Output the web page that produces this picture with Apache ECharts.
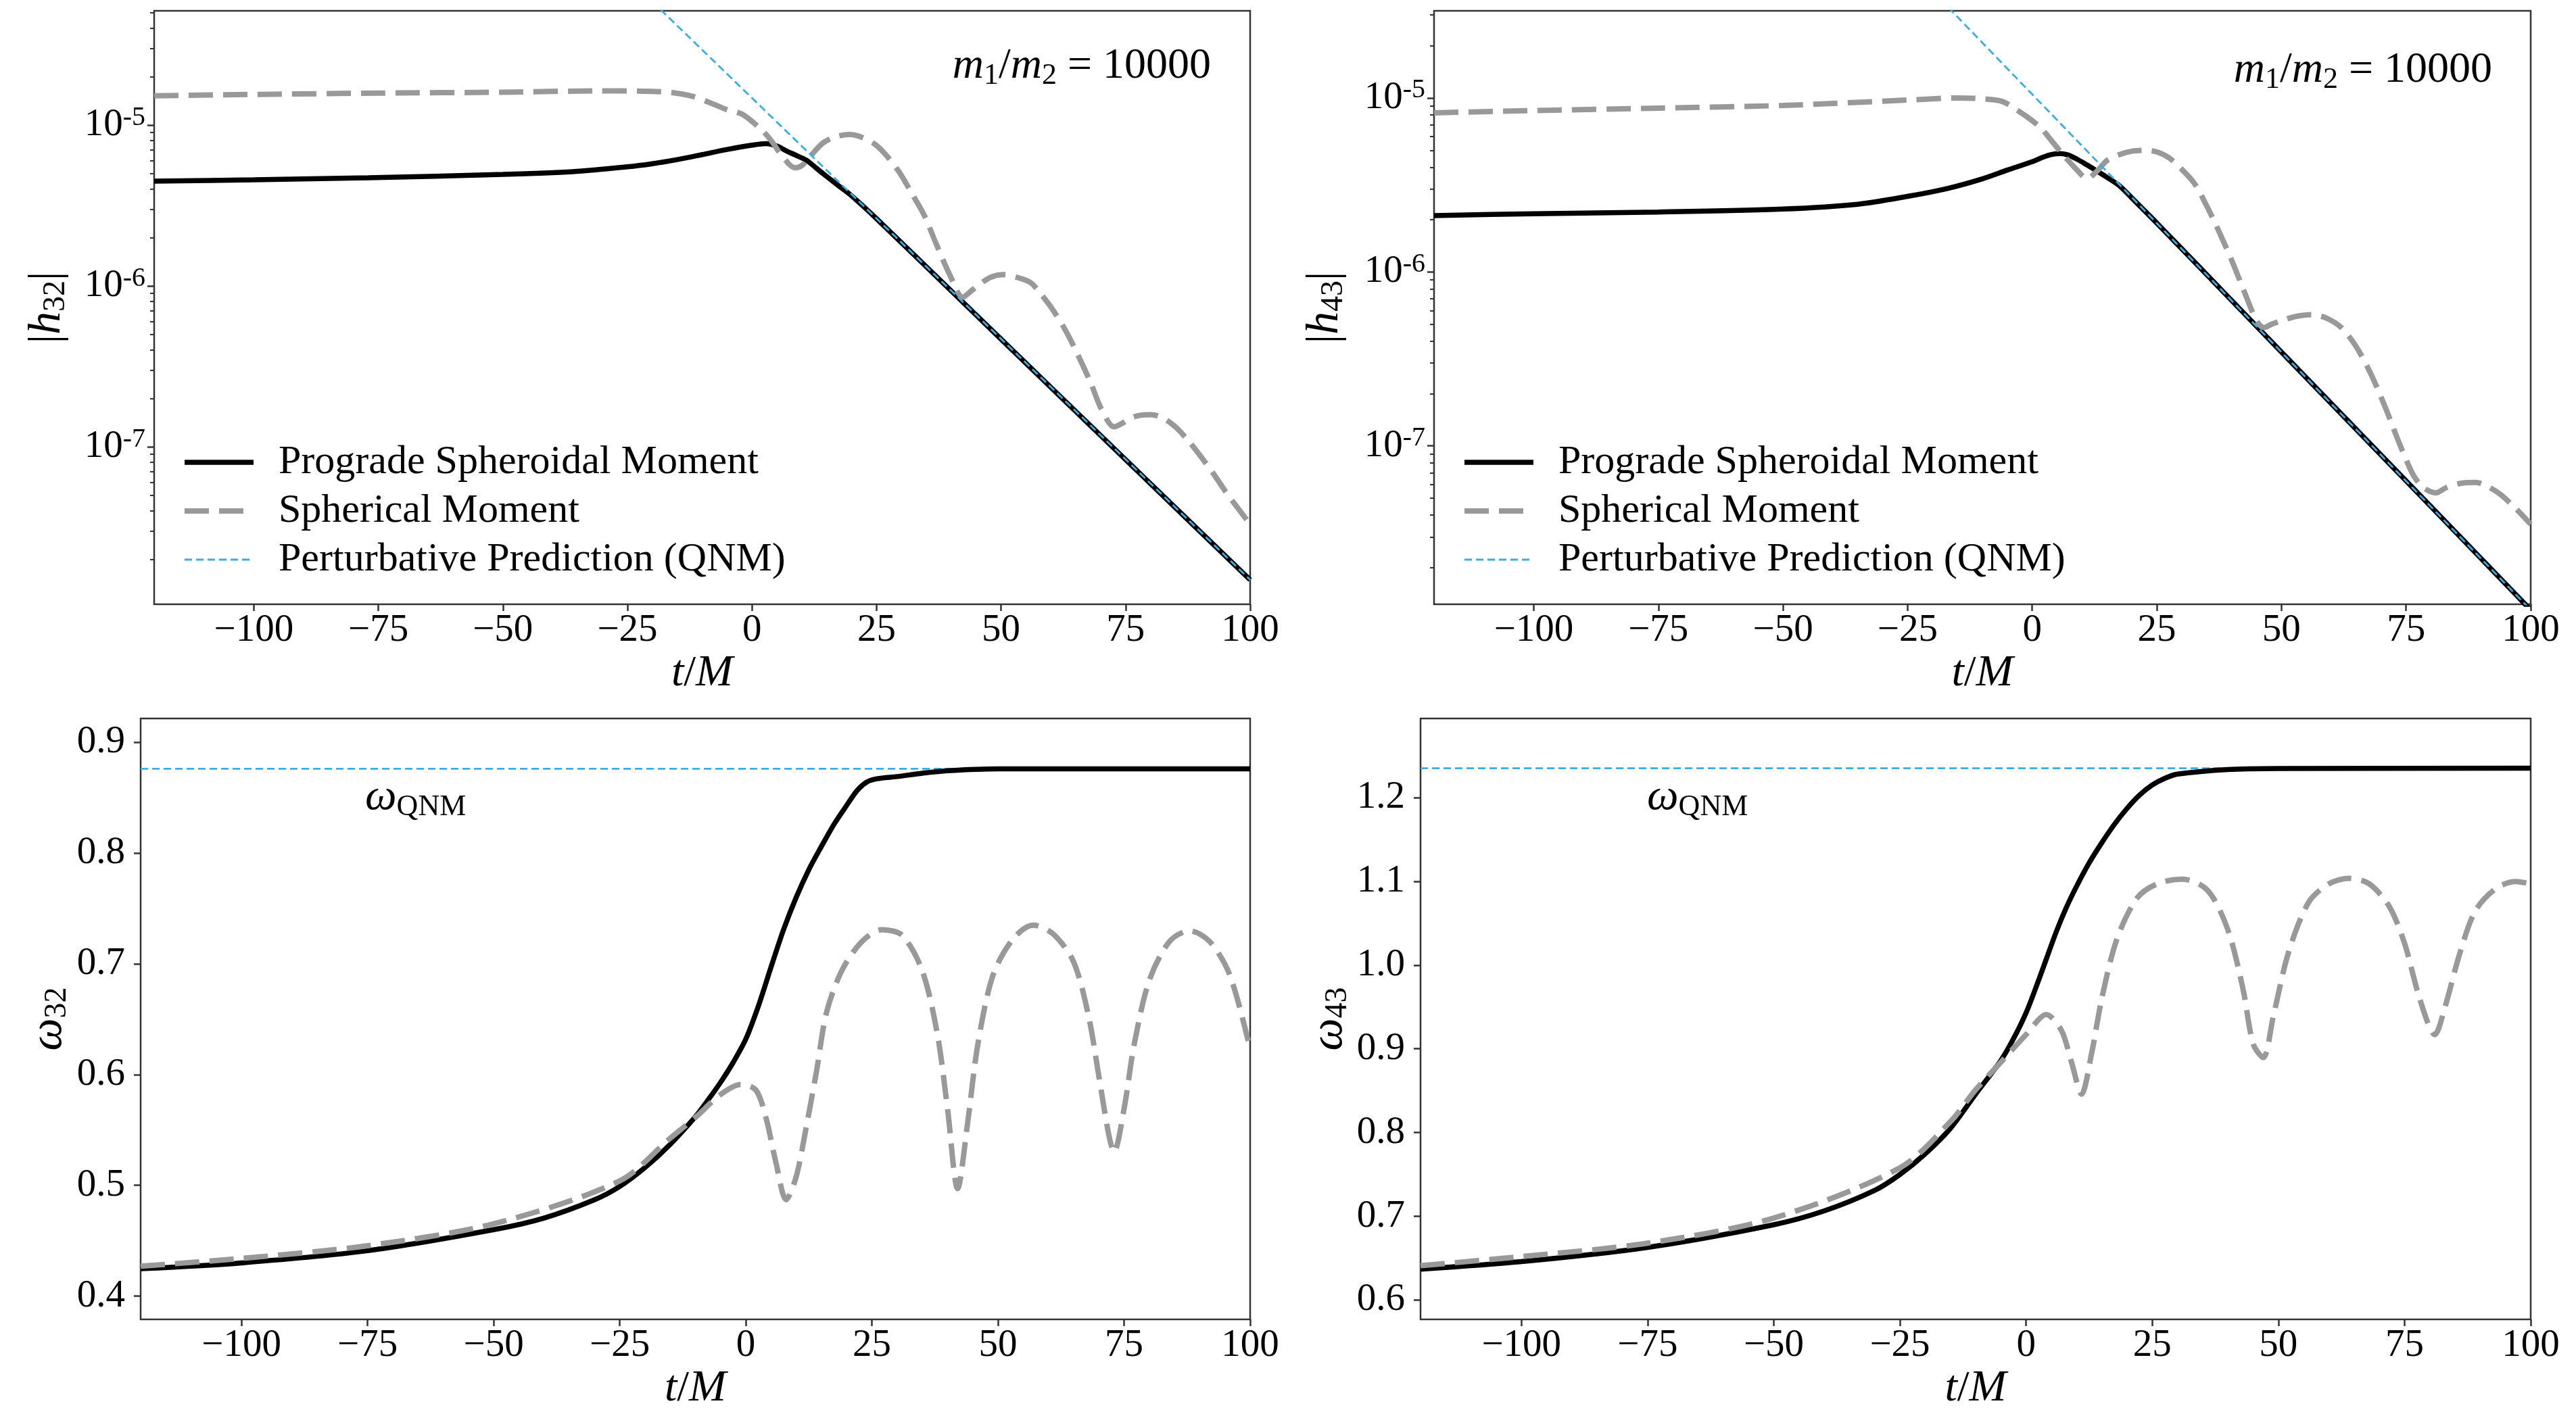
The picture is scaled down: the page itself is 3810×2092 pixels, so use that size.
<!DOCTYPE html>
<html><head><meta charset="utf-8">
<script src="https://cdn.jsdelivr.net/npm/echarts@6/dist/echarts.min.js"></script>
<style>html,body{margin:0;padding:0;background:#fff}#c{width:3810px;height:2092px}</style>
</head><body><div id="c"></div><script>
const FONT = 'Liberation Serif';

// ---- tick labels ----
const xTickValues = [-100, -75, -50, -25, 0, 25, 50, 75, 100];
const logTickValues = [1e-7, 1e-6, 1e-5];
const omega32TickValues = [0.4, 0.5, 0.6, 0.7, 0.8, 0.9];
const omega43TickValues = [0.6, 0.7, 0.8, 0.9, 1.0, 1.1, 1.2];

// ---- |h32| ----
const h32SpheroidalT = [-120,-100,-77,-50,-36,-25,-20,-15,-10,-5,0,2.8,5,7,9,11,13,15,17.5,20,25,40,60,80,100];
const h32Spheroidal  = [4.48e-6,4.57e-6,4.70e-6,4.93e-6,5.13e-6,5.50e-6,5.75e-6,6.10e-6,6.55e-6,7.05e-6,7.50e-6,7.67e-6,7.41e-6,6.89e-6,6.45e-6,6.03e-6,5.37e-6,4.79e-6,4.17e-6,3.63e-6,2.62e-6,9.31e-7,2.34e-7,5.90e-8,1.49e-8];
const h32SphericalT = [-120,-100,-75,-50,-31,-20,-16,-12,-8,-5,-2,2,4,6,8.6,10,11.5,14.3,17,19.6,22,24.7,27,29.6,32,34.6,37,39.8,42.3,44,45.6,48,50.5,53,55.9,58,60.4,63,65.3,68,70.2,72.7,74.5,76,78,80.1,82.5,85,87.5,90.1,92.5,95.1,97.5,100];
const h32Spherical  = [1.52e-5,1.55e-5,1.58e-5,1.60e-5,1.63e-5,1.62e-5,1.59e-5,1.51e-5,1.36e-5,1.245e-5,1.17e-5,9.3e-6,7.9e-6,6.45e-6,5.43e-6,5.6e-6,6.3e-6,7.76e-6,8.5e-6,8.73e-6,8.41e-6,7.59e-6,6.46e-6,5.08e-6,3.8e-6,2.74e-6,1.82e-6,1.156e-6,8.5e-7,9.3e-7,1.02e-6,1.135e-6,1.175e-6,1.135e-6,1.05e-6,8.9e-7,7.1e-7,5.25e-7,3.8e-7,2.5e-7,1.7e-7,1.33e-7,1.41e-7,1.51e-7,1.57e-7,1.585e-7,1.51e-7,1.33e-7,1.1e-7,8.7e-8,6.9e-8,5.25e-8,4.17e-8,3.3e-8];
const h32QnmT = [-20, 100];
const h32Qnm  = [5.85e-5, 1.49e-8];

// ---- |h43| ----
const h43SpheroidalT = [-120,-100,-75,-50,-35,-25,-17,-10,-5,0,2,4,5.5,7,9,11,13,15,17.5,20,25,40,60,80,100];
const h43Spheroidal  = [2.11e-6,2.16e-6,2.21e-6,2.30e-6,2.45e-6,2.72e-6,3.02e-6,3.43e-6,3.85e-6,4.30e-6,4.55e-6,4.74e-6,4.79e-6,4.72e-6,4.45e-6,4.12e-6,3.80e-6,3.50e-6,3.13e-6,2.66e-6,1.91e-6,6.86e-7,1.75e-7,4.48e-8,1.14e-8];
const h43SphericalT = [-120,-100,-75,-50,-25,-15,-10,-6,-3,0,2,4,6,9,11,13,15,17.5,20,22.5,25,27.5,30,32.5,35,37.5,40,42.5,45,46.5,48,50,53,56,59,62,65,68,71,74,76.5,78.5,81,83,86,89,91.5,94,97,100];
const h43Spherical  = [8.22e-6,8.47e-6,8.75e-6,9.06e-6,9.73e-6,1.0e-5,9.89e-6,9.55e-6,8.51e-6,7.41e-6,6.6e-6,5.62e-6,4.79e-6,3.85e-6,3.43e-6,3.8e-6,4.37e-6,4.73e-6,4.95e-6,5.0e-6,4.9e-6,4.52e-6,3.89e-6,3.24e-6,2.4e-6,1.7e-6,1.17e-6,7.76e-7,5.25e-7,4.79e-7,5.0e-7,5.25e-7,5.56e-7,5.69e-7,5.43e-7,4.79e-7,3.72e-7,2.57e-7,1.62e-7,9.77e-8,6.76e-8,5.75e-8,5.37e-8,5.75e-8,6.1e-8,6.17e-8,5.82e-8,5.25e-8,4.37e-8,3.55e-8];
const h43QnmT = [-20, 100];
const h43Qnm  = [4.11e-5, 1.14e-8];

// ---- omega32 ----
const w32SpheroidalT = [-120,-100,-75,-50,-40,-30,-25,-20,-15,-10,-7.5,-5,-2.5,0,2.5,5,7.5,10,12.5,15,17.5,20,22,24,26,30,35,40,50,75,100];
const w32Spheroidal  = [0.4247,0.430,0.441,0.460,0.4705,0.487,0.499,0.516,0.537,0.562,0.577,0.593,0.611,0.632,0.662,0.697,0.731,0.760,0.785,0.806,0.826,0.843,0.856,0.864,0.867,0.869,0.872,0.8743,0.876,0.876,0.876];
const w32SphericalT = [-120,-100,-75,-50,-25,-15,-10,-5,-1,2,4,6,8,10,12,14,16,19,23,27,31,35,38,40,42,44,46,49,53,57,61,65,68,70,72,73,75,77,80,84,88,92,96,100];
const w32Spherical  = [0.427,0.434,0.4455,0.4653,0.504,0.5425,0.5613,0.582,0.591,0.586,0.561,0.520,0.487,0.508,0.553,0.6025,0.656,0.6935,0.720,0.7307,0.7257,0.6935,0.636,0.569,0.497,0.557,0.627,0.6895,0.7225,0.7348,0.7267,0.7017,0.652,0.5985,0.545,0.530,0.569,0.627,0.685,0.720,0.7298,0.720,0.6895,0.623];
const w32QnmT = [-120, 100];
const w32Qnm  = [0.876, 0.876];

// ---- omega43 ----
const w43SpheroidalT = [-120,-100,-75,-50,-40,-30,-25,-20,-15,-10,-5,-2.5,0,2,4,6,8,10,12.5,15,17.5,20,22.5,25,27.5,30,40,50,100];
const w43Spheroidal  = [0.637,0.646,0.663,0.690,0.7065,0.731,0.750,0.7746,0.805,0.846,0.886,0.912,0.943,0.974,1.007,1.040,1.069,1.094,1.122,1.146,1.168,1.187,1.203,1.215,1.223,1.228,1.2335,1.2347,1.235];
const w43SphericalT = [-120,-100,-75,-50,-25,-15,-10,-5,0,4,7,9,11,13,15,18,22,26,31,36,40,43,45,47,49,52,56,60,64,68,72,75,78,81,83,86,89,93,97,100];
const w43Spherical  = [0.6411,0.652,0.668,0.698,0.758,0.813,0.851,0.884,0.917,0.941,0.922,0.884,0.846,0.895,0.960,1.031,1.080,1.097,1.1025,1.089,1.042,0.971,0.906,0.8895,0.939,1.015,1.075,1.097,1.1035,1.097,1.0697,1.026,0.960,0.917,0.9495,1.015,1.0645,1.091,1.0997,1.097];
const w43QnmT = [-120, 100];
const w43Qnm  = [1.235, 1.235];

// ---- names ----
const NAME_SPH = 'Prograde Spheroidal Moment';
const NAME_SPHR = 'Spherical Moment';
const NAME_QNM = 'Perturbative Prediction (QNM)';

function zip(t, v) { return t.map((x, i) => [x, v[i]]); }
function minorLogTicks(lo, hi) {
  const out = [];
  for (let e = -9; e <= -3; e++) for (let m = 2; m <= 9; m++) {
    const v = m * Math.pow(10, e);
    if (v > lo && v < hi) out.push(v);
  }
  return out;
}

const blackStyle = { color: '#000', width: 7.5 };
const grayStyle = { color: '#999999', width: 8, type: [36, 15] };
const blueStyle = { color: '#3aace6', width: 2.8, type: [11, 6] };

function line(name, t, v, xi, yi, style, smooth) {
  return { type: 'line', name, data: zip(t, v), xAxisIndex: xi, yAxisIndex: yi,
    symbol: 'none', showSymbol: false, smooth: smooth ? 0.3 : false, lineStyle: style,
    itemStyle: { color: style.color, opacity: 0 }, silent: true, clip: true };
}

const tickStyle = { show: true, length: 10, inside: false, lineStyle: { color: '#333', width: 2.5 } };
const labelBase = { color: '#000', fontFamily: FONT, fontSize: 57 };
const fmtX = v => v < 0 ? '\u2212' + Math.abs(v) : String(v);
const noLine = { show: false, onZero: false };

function xAxis(gi) {
  return { type: 'value', gridIndex: gi, min: -120, max: 100, position: 'bottom',
    axisLine: noLine, splitLine: { show: false },
    axisTick: Object.assign({ customValues: xTickValues }, tickStyle),
    axisLabel: Object.assign({ customValues: xTickValues, formatter: fmtX, margin: 11 }, labelBase),
    name: '{i|t}{n|/}{i|M}', nameLocation: 'middle', nameGap: 68,
    nameTextStyle: { color: '#000', fontFamily: FONT, fontSize: 64,
      rich: { i: { fontFamily: FONT, fontSize: 66, fontStyle: 'italic', color: '#000', lineHeight: 70 },
              n: { fontFamily: FONT, fontSize: 64, color: '#000', lineHeight: 70 } } }
  };
}

const nameRich = {
  h: { fontFamily: FONT, fontSize: 68, fontStyle: 'italic', color: '#000', lineHeight: 72 },
  w: { fontFamily: FONT, fontSize: 68, fontStyle: 'italic', color: '#000', lineHeight: 72 },
  s: { fontFamily: FONT, fontSize: 46, color: '#000', lineHeight: 52, verticalAlign: 'bottom' },
  n: { fontFamily: FONT, fontSize: 66, color: '#000', lineHeight: 72 }
};

function logAxis(gi, min, max, name, gap) {
  return { type: 'log', logBase: 10, gridIndex: gi, min, max, position: 'left',
    axisLine: noLine, splitLine: { show: false },
    axisTick: Object.assign({ customValues: logTickValues }, tickStyle),
    axisLabel: { customValues: logTickValues, margin: 13, color: '#000', fontFamily: FONT, fontSize: 57,
      formatter: v => '{b|10}{p|' + Math.round(Math.log10(v)) + '}',
      rich: { b: { fontFamily: FONT, fontSize: 57, lineHeight: 62, color: '#000' },
              p: { fontFamily: FONT, fontSize: 40, lineHeight: 40, color: '#000', verticalAlign: 'top' } } },
    name, nameLocation: 'middle', nameGap: gap,
    nameTextStyle: { color: '#000', fontFamily: FONT, fontSize: 66, rich: nameRich }
  };
}
function minorAxis(gi, min, max) {
  return { type: 'log', logBase: 10, gridIndex: gi, min, max, position: 'left', offset: 0,
    axisLine: noLine, splitLine: { show: false }, axisLabel: { show: false },
    axisTick: { show: true, length: 6, customValues: minorLogTicks(min, max), lineStyle: { color: '#333', width: 2 } } };
}
function linAxis(gi, min, max, ticks, name, gap) {
  return { type: 'value', gridIndex: gi, min, max, position: 'left',
    axisLine: noLine, splitLine: { show: false },
    axisTick: Object.assign({ customValues: ticks }, tickStyle),
    axisLabel: Object.assign({ customValues: ticks, formatter: v => v.toFixed(1), margin: 23 }, labelBase),
    name, nameLocation: 'middle', nameGap: gap,
    nameTextStyle: { color: '#000', fontFamily: FONT, fontSize: 66, rich: nameRich }
  };
}

const gridBase = { show: true, borderColor: '#333', borderWidth: 2.5, backgroundColor: 'transparent', containLabel: false };

const legendText = { color: '#000', fontFamily: FONT, fontSize: 60, padding: [0, 0, 0, 32] };
const hiddenSymbol = { opacity: 0, borderWidth: 0 };
function legend(left, top) {
  return { left, top, orient: 'vertical', itemWidth: 102, itemHeight: 56, itemGap: 12, padding: 0,
    selectedMode: false, textStyle: legendText,
    data: [ { name: NAME_SPH, lineStyle: blackStyle, itemStyle: hiddenSymbol },
            { name: NAME_SPHR, lineStyle: grayStyle, itemStyle: hiddenSymbol },
            { name: NAME_QNM, lineStyle: blueStyle, itemStyle: hiddenSymbol } ] };
}

const massRich = {
  i: { fontFamily: FONT, fontSize: 64, fontStyle: 'italic', fontWeight: 'normal', color: '#000', lineHeight: 72 },
  s: { fontFamily: FONT, fontSize: 44, fontWeight: 'normal', color: '#000', lineHeight: 50, verticalAlign: 'bottom' },
  n: { fontFamily: FONT, fontSize: 64, fontWeight: 'normal', color: '#000', lineHeight: 72 }
};
const qnmRich = {
  w: { fontFamily: FONT, fontSize: 66, fontStyle: 'italic', fontWeight: 'normal', color: '#000', lineHeight: 72 },
  q: { fontFamily: FONT, fontSize: 44, fontWeight: 'normal', color: '#000', lineHeight: 50, verticalAlign: 'bottom' }
};
const massText = '{i|m}{s|1}{n|/}{i|m}{s|2}{n| = 10000}';
const qnmText = '{w|\u03c9}{q|QNM}';
const titleStyle = r => ({ fontWeight: 'normal', fontFamily: FONT, color: '#000', fontSize: 64, rich: r });

const option = {
  animation: false,
  backgroundColor: '#fff',
  textStyle: { fontFamily: FONT },
  title: [
    { text: massText, right: 2019, top: 62, padding: 0, textStyle: titleStyle(massRich) },
    { text: massText, right: 124, top: 68, padding: 0, textStyle: titleStyle(massRich) },
    { text: qnmText, left: 540, top: 1144, padding: 0, textStyle: titleStyle(qnmRich) },
    { text: qnmText, left: 2436, top: 1144, padding: 0, textStyle: titleStyle(qnmRich) }
  ],
  legend: [ legend(269, 654), legend(2162, 654) ],
  grid: [
    Object.assign({ left: 228, top: 16, width: 1621, height: 878 }, gridBase),
    Object.assign({ left: 2121, top: 16, width: 1622, height: 878 }, gridBase),
    Object.assign({ left: 208, top: 1063, width: 1641, height: 889 }, gridBase),
    Object.assign({ left: 2101, top: 1063, width: 1642, height: 889 }, gridBase)
  ],
  xAxis: [ xAxis(0), xAxis(1), xAxis(2), xAxis(3) ],
  yAxis: [
    logAxis(0, 1.05e-8, 5.13e-5, '|{h|h}{s|32}|', 122),
    logAxis(1, 1.23e-8, 3.17e-5, '|{h|h}{s|43}|', 125),
    linAxis(2, 0.379, 0.9214, omega32TickValues, '{w|\u03c9}{s|32}', 100),
    linAxis(3, 0.577, 1.2944, omega43TickValues, '{w|\u03c9}{s|43}', 99),
    minorAxis(0, 1.05e-8, 5.13e-5),
    minorAxis(1, 1.23e-8, 3.17e-5)
  ],
  series: [
    line(NAME_SPH, h32SpheroidalT, h32Spheroidal, 0, 0, blackStyle, true),
    line(NAME_SPHR, h32SphericalT, h32Spherical, 0, 0, grayStyle, true),
    line(NAME_QNM, h32QnmT, h32Qnm, 0, 0, blueStyle, false),

    line(NAME_SPH, h43SpheroidalT, h43Spheroidal, 1, 1, blackStyle, true),
    line(NAME_SPHR, h43SphericalT, h43Spherical, 1, 1, grayStyle, true),
    line(NAME_QNM, h43QnmT, h43Qnm, 1, 1, blueStyle, false),

    line(NAME_QNM, w32QnmT, w32Qnm, 2, 2, blueStyle, false),
    line(NAME_SPH, w32SpheroidalT, w32Spheroidal, 2, 2, blackStyle, true),
    line(NAME_SPHR, w32SphericalT, w32Spherical, 2, 2, grayStyle, true),

    line(NAME_QNM, w43QnmT, w43Qnm, 3, 3, blueStyle, false),
    line(NAME_SPH, w43SpheroidalT, w43Spheroidal, 3, 3, blackStyle, true),
    line(NAME_SPHR, w43SphericalT, w43Spherical, 3, 3, grayStyle, true)
  ]
};

const chart = echarts.init(document.getElementById('c'), null, { renderer: 'canvas', width: 3810, height: 2092 });
chart.setOption(option);
</script></body></html>
